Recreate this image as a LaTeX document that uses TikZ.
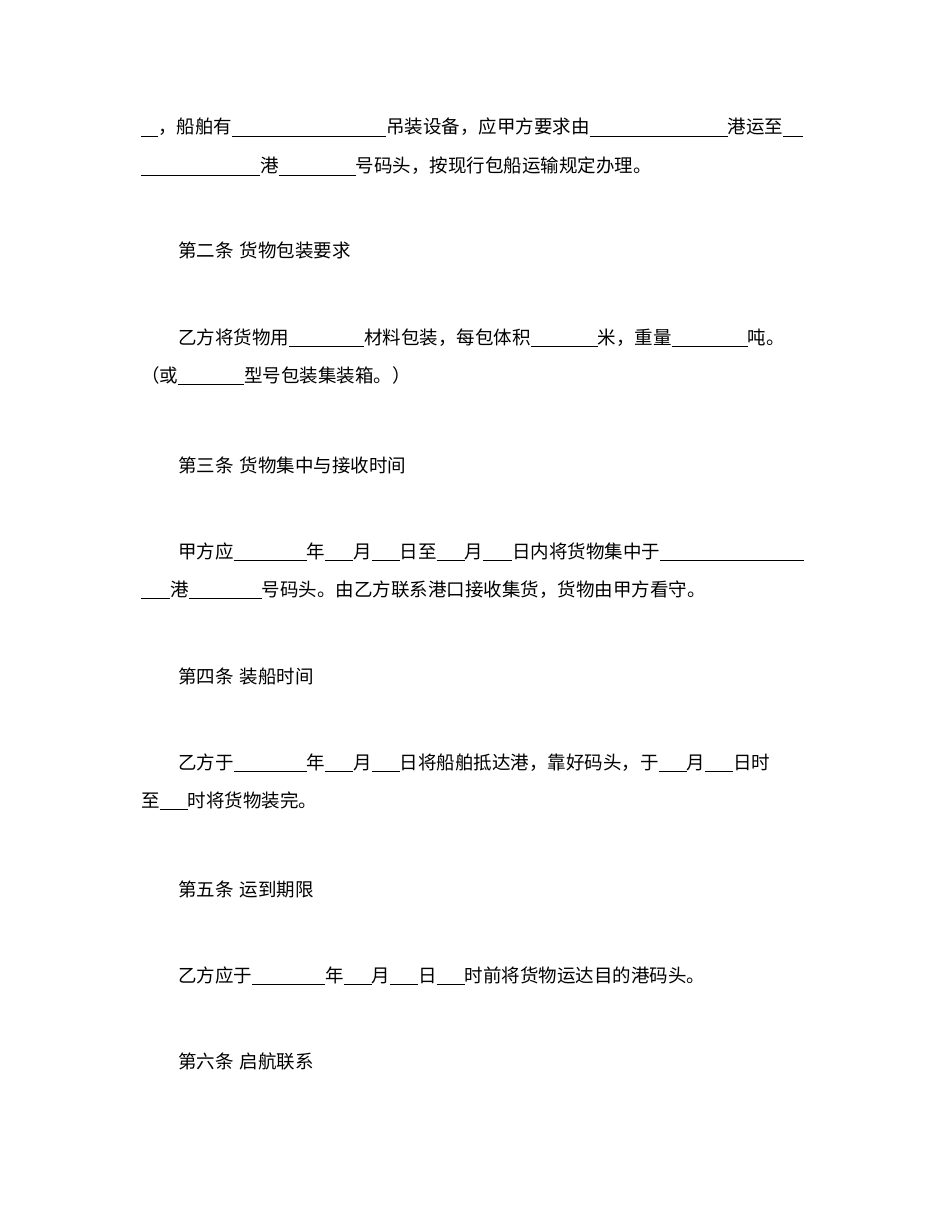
\documentclass[tikz,border=0pt]{standalone}
\usepackage{fontspec}
\newfontfamily\cjk{Noto Sans CJK SC}
\newcommand{\bl}[1]{\rule[-2.5pt]{#1pt}{0.8pt}}
\begin{document}
\begin{tikzpicture}[x=1pt,y=-1pt,
  txt/.style={anchor=base west,inner sep=0pt,font=\cjk\fontsize{18.5}{19}\selectfont}]
\useasboundingbox (0,0) rectangle (950,1230);
\node[txt] (l1) at (141,134) {\bl{17}，船舶有\bl{154}吊装设备，应甲方要求由\bl{138}港运至\bl{20}};
\node[txt] (l2) at (141,173) {\bl{119}港\bl{77}号码头，按现行包船运输规定办理。};
\node[txt] (h2) at (178,258) {第二条\hspace{6pt}货物包装要求};
\node[txt] (l4) at (178,344) {乙方将货物用\bl{75}材料包装，每包体积\bl{67}米，重量\bl{76}吨。};
\node[txt] (l5) at (141,382) {（或\bl{66}型号包装集装箱。）};
\node[txt] (h3) at (178,472) {第三条\hspace{6pt}货物集中与接收时间};
\node[txt] (l7) at (178,558) {甲方应\bl{73}年\bl{28}月\bl{28}日至\bl{28}月\bl{29}日内将货物集中于\bl{144}};
\node[txt] (l8) at (141,596) {\bl{29}港\bl{73}号码头。由乙方联系港口接收集货，货物由甲方看守。};
\node[txt] (h4) at (178,683) {第四条\hspace{6pt}装船时间};
\node[txt] (l10) at (178,769) {乙方于\bl{73}年\bl{28}月\bl{28}日将船舶抵达港，靠好码头，于\bl{28}月\bl{28}日时};
\node[txt] (l11) at (141,807) {至\bl{28}时将货物装完。};
\node[txt] (h5) at (178,896) {第五条\hspace{6pt}运到期限};
\node[txt] (l13) at (178,982) {乙方应于\bl{73}年\bl{28}月\bl{28}日\bl{28}时前将货物运达目的港码头。};
\node[txt] (h6) at (178,1068) {第六条\hspace{6pt}启航联系};
\end{tikzpicture}
\end{document}
